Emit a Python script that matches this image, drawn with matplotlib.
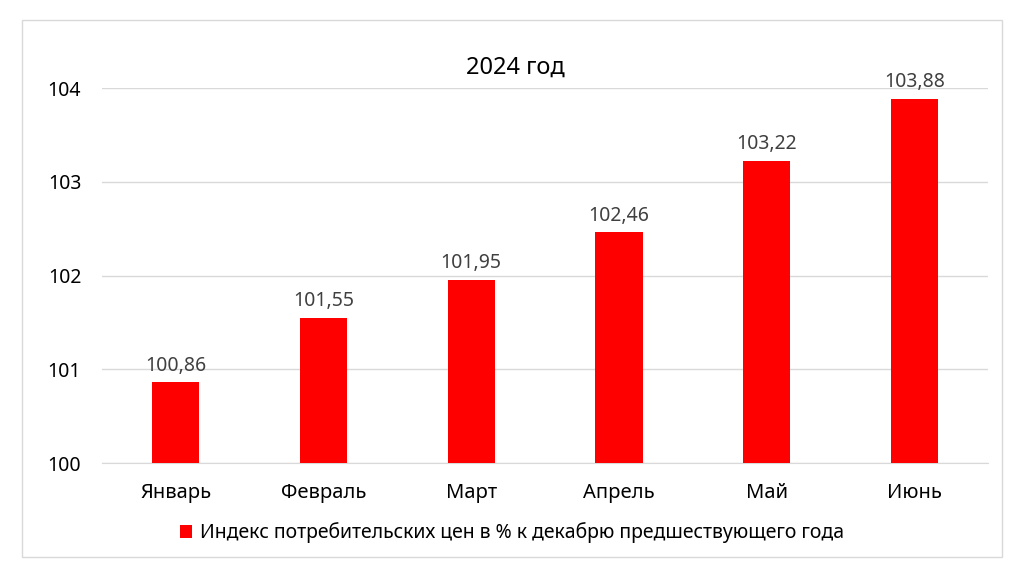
import matplotlib
matplotlib.use("Agg")
import matplotlib.pyplot as plt
from matplotlib.patches import Rectangle

plt.rcParams['font.family'] = ['Noto Sans', 'DejaVu Sans']

months = ["Январь", "Февраль", "Март", "Апрель", "Май", "Июнь"]
values = [100.86, 101.55, 101.95, 102.46, 103.22, 103.88]
yticks = [100, 101, 102, 103, 104]
title = "2024 год"
series_name = "Индекс потребительских цен в % к декабрю предшествующего года"

fig = plt.figure(figsize=(10.24, 5.76), dpi=100)
fig.patches.append(Rectangle((0.0215, 0.033), 0.957, 0.932, transform=fig.transFigure,
                             fill=False, edgecolor='#d9d9d9', linewidth=1))
ax = fig.add_axes([0.0996, 0.196, 0.8655, 0.651])
x = list(range(len(months)))
bars = ax.bar(x, values, width=0.32, color='#ff0000', label=series_name, zorder=3,
              bottom=0)
ax.set_ylim(100, 104)
ax.set_xlim(-0.5, len(months) - 0.5)
ax.set_yticks(yticks)
ax.set_yticklabels([str(t) for t in yticks])
ax.set_xticks(x)
ax.set_xticklabels(months)
ax.grid(axis='y', color='#d9d9d9', linewidth=1, zorder=0)
for s in ['top', 'right', 'left']:
    ax.spines[s].set_visible(False)
ax.spines['bottom'].set_color('#d9d9d9')
ax.tick_params(axis='both', length=0, labelsize=14, colors='#000000')
ax.tick_params(axis='x', labelsize=14.5, pad=14)
ax.tick_params(axis='y', pad=15)
for xi, v in zip(x, values):
    ax.annotate(f"{v:.2f}".replace('.', ','), (xi, v), xytext=(0, 5), textcoords='offset points',
                ha='center', va='bottom', fontsize=14, color='#404040', clip_on=False)
fig.text(0.503, 0.882, title, ha='center', va='center', fontsize=17, color='#000000')
fig.legend(handles=[bars], labels=[series_name], loc='center', bbox_to_anchor=(0.5, 0.075),
           frameon=False, fontsize=14, handlelength=0.6, handleheight=0.6, handletextpad=0.4)
fig.savefig("out.png", dpi=100)
